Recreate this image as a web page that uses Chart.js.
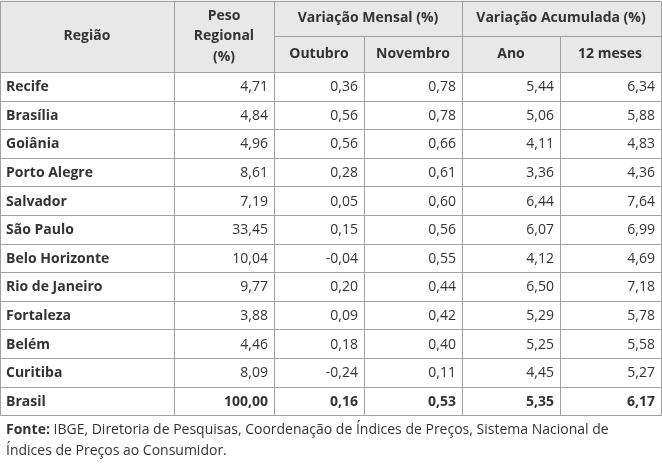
<!DOCTYPE html>
<html><head><meta charset="utf-8">
<script src="https://cdn.jsdelivr.net/npm/chart.js"></script>
<style>html,body{margin:0;padding:0;background:#fff}canvas{display:block}</style>
</head><body><canvas id="c" width="662" height="466"></canvas>
<script>
const regions = ["Recife","Brasília","Goiânia","Porto Alegre","Salvador","São Paulo","Belo Horizonte","Rio de Janeiro","Fortaleza","Belém","Curitiba","Brasil"];
const peso = ["4,71","4,84","4,96","8,61","7,19","33,45","10,04","9,77","3,88","4,46","8,09","100,00"];
const outubro = ["0,36","0,56","0,56","0,28","0,05","0,15","-0,04","0,20","0,09","0,18","-0,24","0,16"];
const novembro = ["0,78","0,78","0,66","0,61","0,60","0,56","0,55","0,44","0,42","0,40","0,11","0,53"];
const ano = ["5,44","5,06","4,11","3,36","6,44","6,07","4,12","6,50","5,29","5,25","4,45","5,35"];
const meses12 = ["6,34","5,88","4,83","4,36","7,64","6,99","4,69","7,18","5,78","5,58","5,27","6,17"];
const colEdges = [0,174,274,364,462,560,661];

const tablePlugin = {
  id:'table',
  afterDraw(chart){
    const ctx = chart.ctx, xs = chart.scales.x, ys = chart.scales.y;
    const X = v => xs.getPixelForValue(v), Y = v => ys.getPixelForValue(v);
    const top = Y(0.5), hMid = Y(36), hBot = Y(72), rh = 28.6;
    const bottom = hBot + rh*regions.length;
    const F = "'Open Sans', sans-serif";
    ctx.save();
    ctx.fillStyle = '#e8e8e8';
    ctx.fillRect(X(0), top, X(661)-X(0), hBot-top);
    ctx.strokeStyle = '#a0a0a0'; ctx.lineWidth = 1;
    const line=(x1,y1,x2,y2)=>{ctx.beginPath();ctx.moveTo(Math.round(x1)+0.5,Math.round(y1)+0.5);ctx.lineTo(Math.round(x2)+0.5,Math.round(y2)+0.5);ctx.stroke();};
    line(X(0),top,X(661),top); line(X(0),top,X(0),bottom); line(X(661),top,X(661),bottom); line(X(0),bottom,X(661),bottom);
    colEdges.slice(1,-1).forEach(e=>{
      const ystart = (e===364||e===560)?hMid:top;
      line(X(e),ystart,X(e),bottom);
    });
    line(X(274),hMid,X(661),hMid);
    for(let i=0;i<=regions.length-1;i++) line(X(0),hBot+rh*i,X(661),hBot+rh*i);
    ctx.fillStyle='#333'; ctx.font="bold 14px "+F; ctx.textAlign='center'; ctx.textBaseline='middle';
    ctx.fillText('Região',X(87),Y(36));
    ctx.fillText('Peso',X(224),Y(16)); ctx.fillText('Regional',X(224),Y(36)); ctx.fillText('(%)',X(224),Y(57));
    ctx.fillText('Variação Mensal (%)',X(368),Y(18));
    ctx.fillText('Variação Acumulada (%)',X(561),Y(18));
    ctx.fillText('Outubro',X(319),Y(54)); ctx.fillText('Novembro',X(413),Y(54));
    ctx.fillText('Ano',X(511),Y(54)); ctx.fillText('12 meses',X(610),Y(54));
    const cols=[peso,outubro,novembro,ano,meses12];
    regions.forEach((r,i)=>{
      const cy = hBot + rh*i + rh/2 + 1;
      const last = i===regions.length-1;
      ctx.font="bold 14px "+F; ctx.textAlign='left';
      ctx.fillText(r,X(6),cy);
      ctx.font=(last?"bold ":"")+"14px "+F; ctx.textAlign='right';
      cols.forEach((c,j)=>ctx.fillText(c[i],X(colEdges[j+2])-6,cy));
    });
    ctx.textAlign='left'; ctx.font="bold 14px "+F;
    ctx.fillText('Fonte:',X(6),Y(430));
    const w=ctx.measureText('Fonte: ').width;
    ctx.font="14px "+F;
    ctx.fillText('IBGE, Diretoria de Pesquisas, Coordenação de Índices de Preços, Sistema Nacional de',X(6)+w,Y(430));
    ctx.fillText('Índices de Preços ao Consumidor.',X(6),Y(451));
    ctx.restore();
  }
};

new Chart(document.getElementById('c'),{
  type:'scatter',
  data:{datasets:[{data:[]}]},
  options:{responsive:false,animation:false,layout:{padding:0},
    plugins:{legend:{display:false},tooltip:{enabled:false}},
    scales:{x:{type:'linear',min:0,max:662,display:false},y:{type:'linear',min:0,max:466,reverse:true,display:false}}},
  plugins:[tablePlugin]
});
</script></body></html>
